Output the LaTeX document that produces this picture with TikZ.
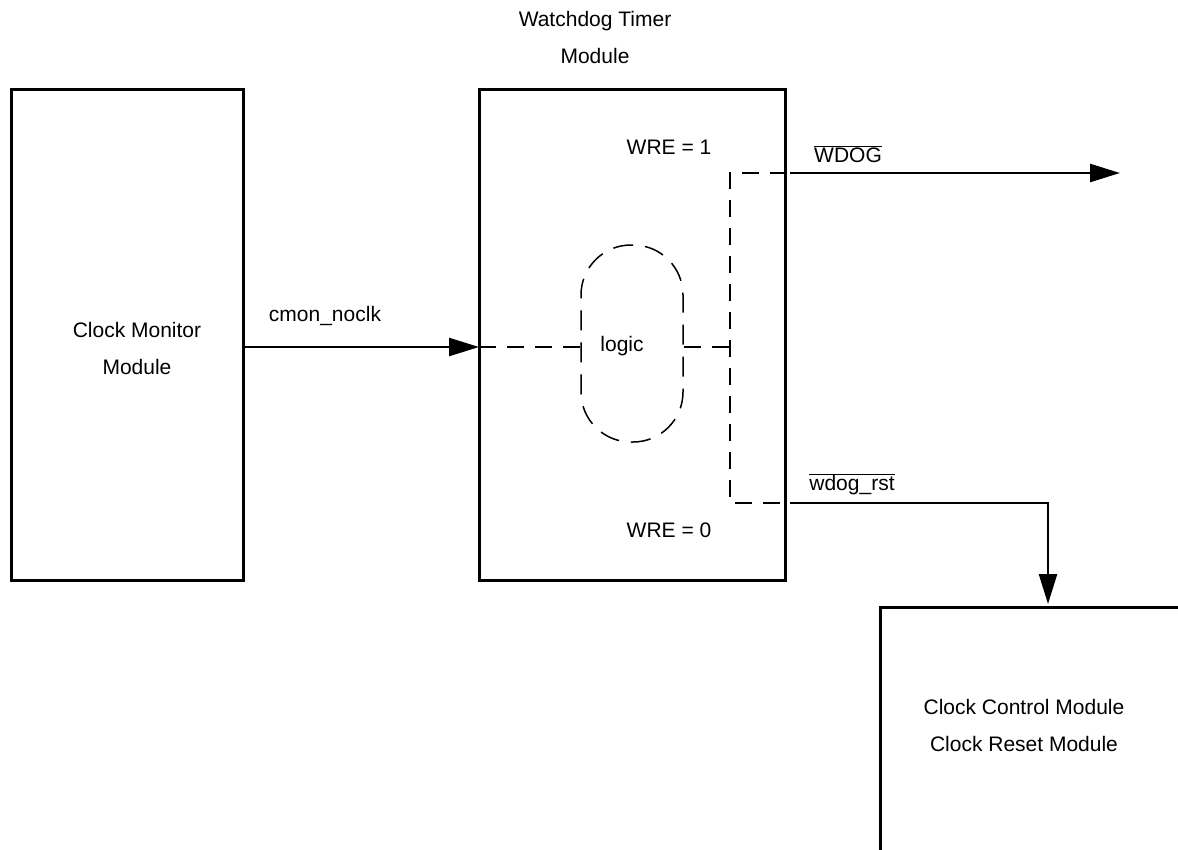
\documentclass[tikz,border=0pt]{standalone}
\usepackage{fontspec}
\setmainfont{Liberation Sans}
\usetikzlibrary{arrows.meta}
\begin{document}
\begin{tikzpicture}[x=1pt,y=-1pt,
  box/.style={draw,line width=3pt,rectangle,inner sep=0pt},
  lbl/.style={font=\fontsize{21}{37}\selectfont,align=center,inner sep=0pt},
  sig/.style={line width=2.5pt,-{Triangle[length=30pt,width=18pt]}},
  dline/.style={line width=2.5pt,dash pattern=on 17pt off 11pt},
  ldash/.style={line width=1.5pt,dash pattern=on 20pt off 12pt}]
\useasboundingbox (0,0) rectangle (1178,849);
% boxes
\node[box,minimum width=232pt,minimum height=491pt] (cmm) at (127,334.5) {};
\node[box,minimum width=306pt,minimum height=491pt] (wdt) at (632,334.5) {};
\node[draw,ldash,rounded corners=50pt,minimum width=102pt,minimum height=197pt,inner sep=0pt] (logic) at (632,343.5) {};
% texts
\node[lbl] (cmmtxt) at (137,348.5) {Clock Monitor\\Module};
\node[lbl] (wdttxt) at (595,37.5) {Watchdog Timer\\Module};
\node[lbl] (logictxt) at (622,346) {logic};
\node[lbl] (wre1) at (669,147) {WRE = 1};
\node[lbl] (wre0) at (669,530) {WRE = 0};
\node[lbl] (cmon) at (325,316) {cmon\_noclk};
\node[lbl] (wdog) at (848,154) {$\overline{\mbox{WDOG}}$};
\node[lbl] (wrst) at (852,484) {$\overline{\mbox{wdog\_rst}}$};
\node[lbl] (ccmtxt) at (1024,725.5) {Clock Control Module\\Clock Reset Module};
% coordinates
\coordinate (inA) at (243,347);
\coordinate (inB) at (479,347);
\coordinate (brT) at (730,173);
\coordinate (brB) at (730,503);
\coordinate (brM) at (730,347);
\coordinate (oT) at (787,173);
\coordinate (oB) at (787,503);
\coordinate (sT) at (790,173);
\coordinate (sB) at (790,503);
\coordinate (tipT) at (1120,173);
\coordinate (turn) at (1048,503);
\coordinate (tipB) at (1048,604);
\coordinate (ccmTL) at (880,607);
\coordinate (ccmBL) at (880,852);
\coordinate (ccmTR) at (1180,607);
% connectors
\draw[sig] (inA) -- (inB);
\draw[dline] (inB) -- (logic.west |- inB);
\draw[dline] (logic.east |- brM) -- (brM);
\draw[dline] (oT) -- (brT) -- (brB) -- (oB);
\draw[sig] (sT) -- (tipT);
\draw[sig] (sB) -- (turn) -- (tipB);
% clock control module box (open)
\draw[line width=3pt] (ccmBL) -- (ccmTL) -- (ccmTR);
\end{tikzpicture}
\end{document}
